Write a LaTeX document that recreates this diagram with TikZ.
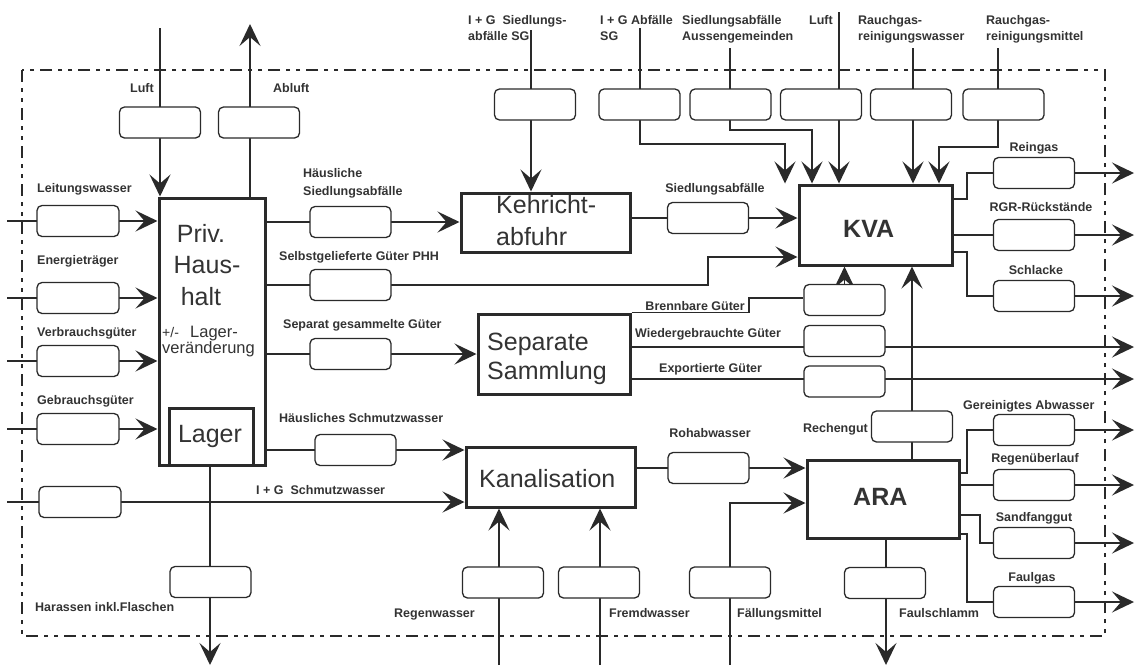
\documentclass[tikz,border=0pt]{standalone}
\usepackage{fontspec}
\setmainfont{Liberation Sans}
\usetikzlibrary{arrows.meta}
\pgfdeclarelayer{bg}
\pgfsetlayers{bg,main}
\definecolor{ink}{HTML}{2A2A2A}
\definecolor{txt}{HTML}{333333}
\tikzset{
  proc/.style={draw=ink, line width=3pt, fill=white, inner sep=0pt},
  flow/.style={draw=ink, line width=1.3pt, rounded corners=5pt, fill=white,
               minimum width=81pt, minimum height=31pt, inner sep=0pt},
  conn/.style={draw=ink, line width=1.6pt},
  arr/.style={conn, -{Stealth[length=22pt,width=21pt,inset=9pt]}},
  lbl/.style={text=txt, font=\fontsize{12.5}{16}\selectfont\bfseries, inner sep=0pt},
  bigtxt/.style={text=txt, font=\fontsize{25}{30}\selectfont, inner sep=0pt},
  boldtxt/.style={text=txt, font=\fontsize{25}{30}\selectfont\bfseries, inner sep=0pt},
  midtxt/.style={text=txt, font=\fontsize{16.5}{20}\selectfont, inner sep=0pt},
  sysborder/.style={draw=ink, line width=1.3pt,
               dash pattern=on 12pt off 6pt on 4pt off 6pt on 4pt off 6pt}
}
\begin{document}
\begin{tikzpicture}[x=1pt,y=-1pt]
\useasboundingbox (0,0) rectangle (1137,665);

% ---------- processes ----------
\node[proc, minimum width=106pt, minimum height=267pt] (hh) at (212,331.5) {};
\node[proc, minimum width=84pt, minimum height=57pt] (lager) at (211,436.5) {};
\node[proc, minimum width=169pt, minimum height=59pt] (keh) at (545.5,222.5) {};
\node[proc, minimum width=152pt, minimum height=80pt] (sep) at (554,354) {};
\node[proc, minimum width=169pt, minimum height=60pt] (kan) at (550.5,477) {};
\node[proc, minimum width=153pt, minimum height=80pt] (kva) at (875.5,225) {};
\node[proc, minimum width=152pt, minimum height=78pt] (ara) at (883,499) {};

% process captions
\node[bigtxt, anchor=base] (tPriv) at (201,242) {Priv.};
\node[bigtxt, anchor=base] (tHaus) at (207,273) {Haus-};
\node[bigtxt, anchor=base] (thalt) at (201,305) {halt};
\node[midtxt, anchor=base west, font=\fontsize{14}{16}\selectfont] (tpm) at (162,337) {+/-};
\node[midtxt, anchor=base west] (tLag) at (190,337) {Lager-};
\node[midtxt, anchor=base west] (tver) at (162,353) {veränderung};
\node[bigtxt, anchor=base] (tLager) at (210,442) {Lager};
\node[bigtxt, anchor=base west] (tKeh1) at (496,213) {Kehricht-};
\node[bigtxt, anchor=base west] (tKeh2) at (496,245) {abfuhr};
\node[bigtxt, anchor=base west] (tSep1) at (487,350) {Separate};
\node[bigtxt, anchor=base west] (tSep2) at (487,379) {Sammlung};
\node[bigtxt, anchor=base west] (tKan) at (479,487) {Kanalisation};
\node[boldtxt, anchor=base west] (tKVA) at (843,237) {KVA};
\node[boldtxt, anchor=base west] (tARA) at (853,505) {ARA};

% ---------- flow boxes ----------
\node[flow] (fLuft) at (160,122.5) {};
\node[flow] (fAbl) at (259,122.5) {};
\node[flow, minimum width=82pt] (fLeit) at (78,221) {};
\node[flow, minimum width=82pt] (fEner) at (78,298) {};
\node[flow, minimum width=82pt] (fVerb) at (78,361) {};
\node[flow, minimum width=82pt] (fGebr) at (78,429) {};
\node[flow, minimum width=82pt] (fIGS) at (80,502) {};
\node[flow] (fHSA) at (350.5,222) {};
\node[flow] (fSGP) at (350.5,285) {};
\node[flow] (fSGG) at (350.5,354) {};
\node[flow] (fHSW) at (355.5,450) {};
\node[flow] (fSA) at (708,218) {};
\node[flow] (fSG) at (535,104.5) {};
\node[flow] (fAG) at (639.5,104.5) {};
\node[flow] (fAus) at (730.5,104.5) {};
\node[flow] (fLK) at (821,104.5) {};
\node[flow] (fRW) at (911,104.5) {};
\node[flow] (fRM) at (1003.5,104.5) {};
\node[flow] (fRein) at (1034,173) {};
\node[flow] (fRGR) at (1034,235) {};
\node[flow] (fSchl) at (1034,296) {};
\node[flow] (fBG) at (844.5,300) {};
\node[flow] (fWG) at (844.5,341) {};
\node[flow] (fEG) at (844.5,381.5) {};
\node[flow] (fRech) at (912,426.5) {};
\node[flow] (fRoh) at (708.5,468) {};
\node[flow] (fRegen) at (503,582.5) {};
\node[flow] (fFremd) at (599,582.5) {};
\node[flow] (fFM) at (730,582.5) {};
\node[flow] (fHar) at (210.5,582) {};
\node[flow] (fFS) at (885,583) {};
\node[flow] (fGA) at (1034,430) {};
\node[flow] (fRU) at (1034,485) {};
\node[flow] (fSF) at (1034,543) {};
\node[flow] (fFG) at (1034,602) {};

% ---------- flow labels ----------
\node[lbl, anchor=base east] (lLuft) at (154,92.5) {Luft};
\node[lbl, anchor=base west] (lAbl) at (273,92.5) {Abluft};
\node[lbl, anchor=base west] (lLeit) at (37,192.5) {Leitungswasser};
\node[lbl, anchor=base west] (lEner) at (37,264.5) {Energieträger};
\node[lbl, anchor=base west] (lVerb) at (37,336.5) {Verbrauchsgüter};
\node[lbl, anchor=base west] (lGebr) at (37,404.5) {Gebrauchsgüter};
\node[lbl, anchor=base west] (lHSA1) at (303,177.5) {Häusliche};
\node[lbl, anchor=base west] (lHSA2) at (303,195.5) {Siedlungsabfälle};
\node[lbl, anchor=base west] (lSGP) at (279,260.5) {Selbstgelieferte Güter PHH};
\node[lbl, anchor=base west] (lSGG) at (283,328.5) {Separat gesammelte Güter};
\node[lbl, anchor=base west] (lHSW) at (279,422.5) {Häusliches Schmutzwasser};
\node[lbl, anchor=base west] (lIGS) at (256,494.5) {I + G\ \ Schmutzwasser};
\node[lbl, anchor=base west] (lHar) at (35,611.5) {Harassen inkl.Flaschen};
\node[lbl, anchor=base west] (lSG1) at (468,24.5) {I + G\ \ Siedlungs-};
\node[lbl, anchor=base west] (lSG2) at (468,40.5) {abfälle SG};
\node[lbl, anchor=base west] (lAG1) at (600,24.5) {I + G Abfälle};
\node[lbl, anchor=base west] (lAG2) at (600,40.5) {SG};
\node[lbl, anchor=base west] (lAus1) at (682,24.5) {Siedlungsabfälle};
\node[lbl, anchor=base west] (lAus2) at (682,40.5) {Aussengemeinden};
\node[lbl, anchor=base east] (lLK) at (833,24.5) {Luft};
\node[lbl, anchor=base west] (lRW1) at (858,24.5) {Rauchgas-};
\node[lbl, anchor=base west] (lRW2) at (858,40.5) {reinigungswasser};
\node[lbl, anchor=base west] (lRM1) at (986,24.5) {Rauchgas-};
\node[lbl, anchor=base west] (lRM2) at (986,40.5) {reinigungsmittel};
\node[lbl, anchor=base] (lSA) at (715,192.5) {Siedlungsabfälle};
\node[lbl, anchor=base] (lRein) at (1034,151.5) {Reingas};
\node[lbl, anchor=base] (lRGR) at (1041,211.5) {RGR-Rückstände};
\node[lbl, anchor=base] (lSchl) at (1036,274.5) {Schlacke};
\node[lbl, anchor=base east] (lBG) at (745,310.5) {Brennbare Güter};
\node[lbl, anchor=base west] (lWG) at (635,337.5) {Wiedergebrauchte Güter};
\node[lbl, anchor=base west] (lEG) at (659,372.5) {Exportierte Güter};
\node[lbl, anchor=base] (lRoh) at (710,437.5) {Rohabwasser};
\node[lbl, anchor=base east] (lRech) at (868,432.5) {Rechengut};
\node[lbl, anchor=base west] (lGA) at (963,409.5) {Gereinigtes Abwasser};
\node[lbl, anchor=base] (lRU) at (1035,462.5) {Regenüberlauf};
\node[lbl, anchor=base] (lSF) at (1034,521.5) {Sandfanggut};
\node[lbl, anchor=base] (lFG) at (1032,581.5) {Faulgas};
\node[lbl, anchor=base east] (lRegen) at (475,617.5) {Regenwasser};
\node[lbl, anchor=base west] (lFremd) at (609,617.5) {Fremdwasser};
\node[lbl, anchor=base west] (lFM) at (737,617.5) {Fällungsmittel};
\node[lbl, anchor=base west] (lFS) at (899,617.5) {Faulschlamm};

% ---------- free ends and bends ----------
\coordinate (xEnd) at (1134,0);
\coordinate (sLeit) at (7,221);
\coordinate (sEner) at (7,298);
\coordinate (sVerb) at (7,361);
\coordinate (sGebr) at (7,429);
\coordinate (sIGS) at (7,502);
\coordinate (sLuft) at (160,28);
\coordinate (eAbl) at (250,24);
\coordinate (eHar) at (210,665);
\coordinate (sLV) at (211,366);
\coordinate (kSGP) at (708,257);
\coordinate (sSG) at (531,30);
\coordinate (sAG) at (640,28);
\coordinate (kAG) at (785,144);
\coordinate (sAus) at (730,48);
\coordinate (kAus) at (812,130);
\coordinate (sLK) at (839,12);
\coordinate (sRW) at (913,48);
\coordinate (sRM) at (998,48);
\coordinate (kRM) at (939,147);
\coordinate (kRein) at (967,199);
\coordinate (kSchl) at (967,252);
\coordinate (kBG) at (749,298);
\coordinate (yWG) at (0,347);
\coordinate (yEG) at (0,379);
\coordinate (sFM) at (730,665);
\coordinate (kFM) at (730,503);
\coordinate (sRegen) at (499,665);
\coordinate (sFremd) at (600,665);
\coordinate (kGA) at (967,473);
\coordinate (kSF) at (980,515);
\coordinate (kFG) at (967,534);
\coordinate (eFS) at (886,665);

\begin{pgfonlayer}{bg}
  \fill[white] (0,0) rectangle (1137,665);
  % system boundary
  \draw[sysborder] (22,70) rectangle (1105,636);

  % private households
  \draw[arr] (sLeit) -- (sLeit -| hh.west);
  \draw[arr] (sEner) -- (sEner -| hh.west);
  \draw[arr] (sVerb) -- (sVerb -| hh.west);
  \draw[arr] (sGebr) -- (sGebr -| hh.west);
  \draw[arr] (sLuft) -- (sLuft |- hh.north);
  \draw[arr] (hh.north -| eAbl) -- (eAbl);
  \draw[arr] (eHar |- hh.south) -- (eHar);
  \draw[arr] (sLV) -- (sLV |- lager.north);
  \draw[arr] (hh.east |- fHSA) -- (keh.west |- fHSA);
  \draw[arr] (hh.east |- fSGP) -- (kSGP |- fSGP) -- (kSGP) -- (kva.west |- kSGP);
  \draw[arr] (hh.east |- fSGG) -- (sep.west |- fSGG);
  \draw[arr] (hh.east |- fHSW) -- (kan.west |- fHSW);
  \draw[arr] (sIGS) -- (sIGS -| kan.west);

  % refuse collection and incineration
  \draw[arr] (sSG) -- (sSG |- keh.north);
  \draw[arr] (keh.east |- fSA) -- (kva.west |- fSA);
  \draw[arr] (sAG) -- (sAG |- kAG) -- (kAG) -- (kAG |- kva.north);
  \draw[arr] (sAus) -- (sAus |- kAus) -- (kAus) -- (kAus |- kva.north);
  \draw[arr] (sLK) -- (sLK |- kva.north);
  \draw[arr] (sRW) -- (sRW |- kva.north);
  \draw[arr] (sRM) -- (sRM |- kRM) -- (kRM) -- (kRM |- kva.north);
  \draw[arr] (kva.east |- kRein) -- (kRein) -- (kRein |- fRein) -- (xEnd |- fRein);
  \draw[arr] (kva.east |- fRGR) -- (xEnd |- fRGR);
  \draw[arr] (kva.east |- kSchl) -- (kSchl) -- (kSchl |- fSchl) -- (xEnd |- fSchl);

  % separate collection
  \draw[conn] (sep.north east) -- (kBG |- sep.north east) -- (kBG) -- (fBG.west |- kBG);
  \draw[arr] (fBG.north) -- (fBG.north |- kva.south);
  \draw[arr] (sep.east |- yWG) -- (xEnd |- yWG);
  \draw[arr] (sep.east |- yEG) -- (xEnd |- yEG);

  % sewer and treatment plant
  \draw[arr] (sRegen) -- (sRegen |- kan.south);
  \draw[arr] (sFremd) -- (sFremd |- kan.south);
  \draw[arr] (kan.east |- fRoh) -- (ara.west |- fRoh);
  \draw[arr] (sFM) -- (kFM) -- (ara.west |- kFM);
  \draw[arr] (fRech |- ara.north) -- (fRech |- kva.south);
  \draw[arr] (ara.east |- kGA) -- (kGA) -- (kGA |- fGA) -- (xEnd |- fGA);
  \draw[arr] (ara.east |- fRU) -- (xEnd |- fRU);
  \draw[arr] (ara.east |- kSF) -- (kSF) -- (kSF |- fSF) -- (xEnd |- fSF);
  \draw[arr] (ara.east |- kFG) -- (kFG) -- (kFG |- fFG) -- (xEnd |- fFG);
  \draw[arr] (eFS |- ara.south) -- (eFS);
\end{pgfonlayer}
\end{tikzpicture}
\end{document}
